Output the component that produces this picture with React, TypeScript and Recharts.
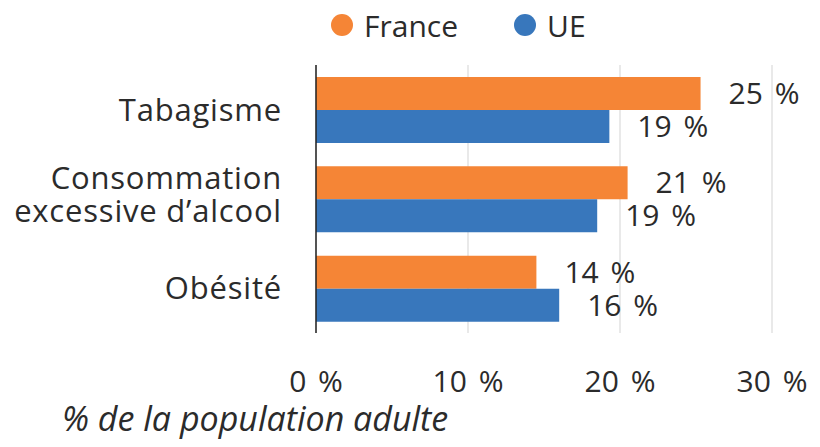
import React from "react";
import {
  Bar,
  BarChart,
  CartesianGrid,
  LabelList,
  Legend,
  XAxis,
  YAxis,
} from "recharts";

const categories = ["Tabagisme", "Consommation\nexcessive d\u2019alcool", "Obésité"];
const franceValues = [25.3, 20.5, 14.5];
const ueValues = [19.3, 18.5, 16.0];
const franceLabels = ["25 %", "21 %", "14 %"];
const ueLabels = ["19 %", "19 %", "16 %"];
const xTicks = [0, 10, 20, 30];

const FONT = "'Open Sans', sans-serif";
const TEXT = "#2b2b2b";
const ORANGE = "#F58536";
const BLUE = "#3877BC";

const data = categories.map((name, i) => ({
  name,
  france: franceValues[i],
  ue: ueValues[i],
  franceLabel: franceLabels[i],
  ueLabel: ueLabels[i],
}));

// category names, wrapped on \n
const CategoryTick = (props: any) => {
  const { x, y, payload } = props;
  const lines: string[] = String(payload.value).split("\n");
  const lh = 33;
  const start = -((lines.length - 1) * lh) / 2 - (lines.length > 1 ? 4 : 0);
  return (
    <text
      x={x}
      y={y}
      textAnchor="end"
      fill={TEXT}
      fontSize={31}
      letterSpacing={0.8}
      fontFamily={FONT}
    >
      {lines.map((l, i) => (
        <tspan key={i} x={x} y={y + start + i * lh} dy="0.35em">
          {l}
        </tspan>
      ))}
    </text>
  );
};

const PercentTick = (props: any) => {
  const { x, y, payload } = props;
  return (
    <text
      x={x}
      y={y}
      textAnchor="middle"
      fill={TEXT}
      fontSize={30}
      wordSpacing={4}
      fontFamily={FONT}
    >
      {payload.value} %
    </text>
  );
};

const LegendBox = () => (
  <div
    style={{
      display: "flex",
      alignItems: "center",
      height: 50,
      paddingLeft: 331,
      fontFamily: FONT,
      fontSize: 30,
      color: TEXT,
    }}
  >
    {[
      { name: "France", color: ORANGE },
      { name: "UE", color: BLUE },
    ].map((it, i) => (
      <div key={it.name} style={{ display: "flex", alignItems: "center", marginRight: i === 0 ? 56 : 0 }}>
        <span
          style={{
            width: 22,
            height: 22,
            borderRadius: 11,
            background: it.color,
            display: "inline-block",
            marginRight: 11,
          }}
        />
        {it.name}
      </div>
    ))}
  </div>
);

const App = () => {
  return (
    <div style={{ position: "absolute", top: 0, left: 0 }}>
      <BarChart
        width={820}
        height={447}
        data={data}
        layout="vertical"
        margin={{ top: 15, right: 48, bottom: 0, left: 0 }}
        barSize={33}
        barGap={0}
      >
        <Legend
          verticalAlign="top"
          content={<LegendBox />}
          wrapperStyle={{ top: 0, left: 0, width: 820 }}
        />
        <CartesianGrid horizontal={false} stroke="#e2e2e2" strokeWidth={1.5} />
        <XAxis
          type="number"
          domain={[0, 30]}
          ticks={xTicks}
          axisLine={false}
          tickLine={false}
          tickSize={0}
          tickMargin={59}
          height={114}
          tick={<PercentTick />}
          label={{
            content: () => (
              <text x={62} y={431} fill={TEXT} fontSize={34} fontStyle="italic" fontFamily={FONT}>
                % de la population adulte
              </text>
            ),
          }}
        />
        <YAxis
          type="category"
          dataKey="name"
          width={316}
          axisLine={{ stroke: "#222", strokeWidth: 1.5 }}
          tickLine={false}
          tickSize={0}
          tickMargin={34}
          tick={<CategoryTick />}
        />
        <Bar dataKey="france" fill={ORANGE} isAnimationActive={false}>
          <LabelList
            dataKey="franceLabel"
            position="right"
            offset={28}
            fill={TEXT}
            fontSize={30}
            wordSpacing={4}
            fontFamily={FONT}
          />
        </Bar>
        <Bar dataKey="ue" fill={BLUE} isAnimationActive={false}>
          <LabelList
            dataKey="ueLabel"
            position="right"
            offset={28}
            fill={TEXT}
            fontSize={30}
            wordSpacing={4}
            fontFamily={FONT}
          />
        </Bar>
      </BarChart>
    </div>
  );
};

export default App;
